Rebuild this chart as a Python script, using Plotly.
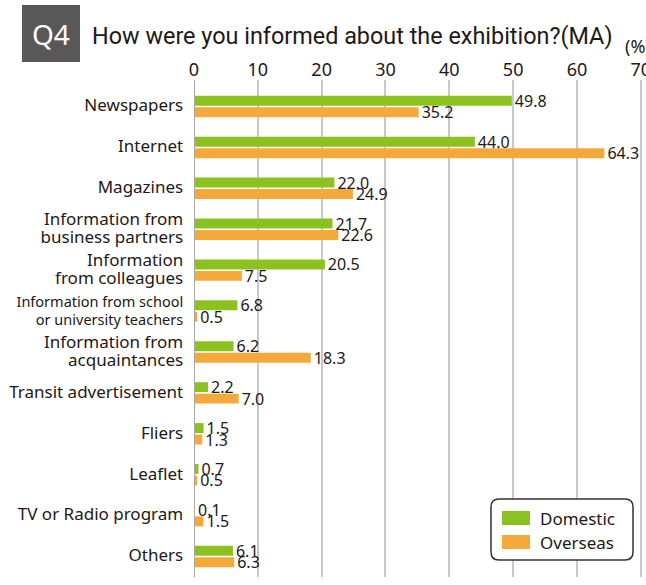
import plotly.graph_objects as go

categories = [
    "Newspapers",
    "Internet",
    "Magazines",
    "Information from<br>business partners",
    "Information<br>from colleagues",
    "Information from school<br>or university teachers",
    "Information from<br>acquaintances",
    "Transit advertisement",
    "Fliers",
    "Leaflet",
    "TV or Radio program",
    "Others",
]
domestic = [49.8, 44.0, 22.0, 21.7, 20.5, 6.8, 6.2, 2.2, 1.5, 0.7, 0.1, 6.1]
overseas = [35.2, 64.3, 24.9, 22.6, 7.5, 0.5, 18.3, 7.0, 1.3, 0.5, 1.5, 6.3]
x_ticks = [0, 10, 20, 30, 40, 50, 60, 70]

W, H = 646, 585
L, R, T, B = 194, 2, 80, 8
TXT = "#231815"
GREEN = "#8CC21F"
ORANGE = "#F5A93B"


def px(x):
    return (x - L) / (W - L - R)


def py(y):
    return (H - B - y) / (H - T - B)


def label(text):
    # small school label, others at normal size; base tick font keeps line spacing tight
    size = 14.5 if "school" in text else 17
    return "<br>".join(f"<span style='font-size:{size}px'>{part}</span>"
                       for part in text.split("<br>"))


fig = go.Figure()
for name, vals, color in [("Domestic", domestic, GREEN), ("Overseas", overseas, ORANGE)]:
    fig.add_trace(go.Bar(
        y=list(range(len(categories))),
        x=vals,
        orientation="h",
        name=name,
        marker=dict(color=color, line=dict(width=0)),
        text=[f"{v:.1f}" for v in vals],
        textposition="outside",
        constraintext="none",
        cliponaxis=False,
        textfont=dict(size=16, color=TXT, family="Noto Sans"),
    ))

fig.update_layout(
    width=W, height=H,
    margin=dict(l=L, r=R, t=T, b=B, autoexpand=False),
    paper_bgcolor="white", plot_bgcolor="white",
    barmode="group", bargap=0.44, bargroupgap=0.13,
    showlegend=False,
    font=dict(family="Noto Sans", color=TXT),
    xaxis=dict(
        side="top", range=[0, 70.5], tickvals=x_ticks, automargin=False,
        showgrid=True, gridcolor="#c9c9c9", gridwidth=1.5,
        zeroline=False, showline=False, ticks="",
        tickfont=dict(size=18, color=TXT), ticklabelstandoff=-1,
        ticklabeloverflow="allow",
    ),
    yaxis=dict(
        range=[11.5, -0.648], automargin=False,
        tickvals=list(range(len(categories))),
        ticktext=[label(c) for c in categories],
        showgrid=False, zeroline=False,
        showline=False, ticks="outside", ticklen=7, tickcolor="rgba(0,0,0,0)",
        tickfont=dict(size=13.8, color=TXT),
    ),
)

# axis line at zero
fig.add_shape(type="line", xref="x", yref="paper", x0=0, x1=0, y0=0, y1=1,
              line=dict(color="#a8a8a8", width=2))

# title box
fig.add_shape(type="rect", xref="paper", yref="paper",
              x0=px(22), x1=px(80), y0=py(62), y1=py(5),
              fillcolor="#595757", line=dict(width=0))
fig.add_annotation(x=px(51), y=py(34), xref="paper", yref="paper",
                   xanchor="center", yanchor="middle",
                   text="Q4", showarrow=False,
                   font=dict(size=28, color="white", family="Noto Sans"))
fig.add_annotation(x=px(90), y=py(36), xref="paper", yref="paper",
                   xanchor="left", yanchor="middle",
                   text="How were you informed about the exhibition?(MA)",
                   showarrow=False,
                   font=dict(size=23.4, color=TXT, family="Roboto"))
fig.add_annotation(x=px(623), y=py(46), xref="paper", yref="paper",
                   xanchor="left", yanchor="middle", text="(%)", showarrow=False,
                   font=dict(size=18, color=TXT))

# legend
x0, x1, y0, y1, rr = 491, 633, 499, 560, 8
path = (f"M {px(x0 + rr)} {py(y0)} L {px(x1 - rr)} {py(y0)} "
        f"Q {px(x1)} {py(y0)} {px(x1)} {py(y0 + rr)} L {px(x1)} {py(y1 - rr)} "
        f"Q {px(x1)} {py(y1)} {px(x1 - rr)} {py(y1)} L {px(x0 + rr)} {py(y1)} "
        f"Q {px(x0)} {py(y1)} {px(x0)} {py(y1 - rr)} L {px(x0)} {py(y0 + rr)} "
        f"Q {px(x0)} {py(y0)} {px(x0 + rr)} {py(y0)} Z")
fig.add_shape(type="path", xref="paper", yref="paper", path=path,
              fillcolor="white", line=dict(color="#333333", width=1.5))
for i, (name, color) in enumerate([("Domestic", GREEN), ("Overseas", ORANGE)]):
    cy = 518 + i * 24
    fig.add_shape(type="rect", xref="paper", yref="paper",
                  x0=px(502), x1=px(530), y0=py(cy + 7), y1=py(cy - 7),
                  fillcolor=color, line=dict(width=0))
    fig.add_annotation(x=px(538), y=py(cy), xref="paper", yref="paper",
                       xanchor="left", yanchor="middle", text=name, showarrow=False,
                       font=dict(size=17, color=TXT))

fig.write_html("out.html", config={"displayModeBar": False},
               post_script="document.body.style.margin='0';")
